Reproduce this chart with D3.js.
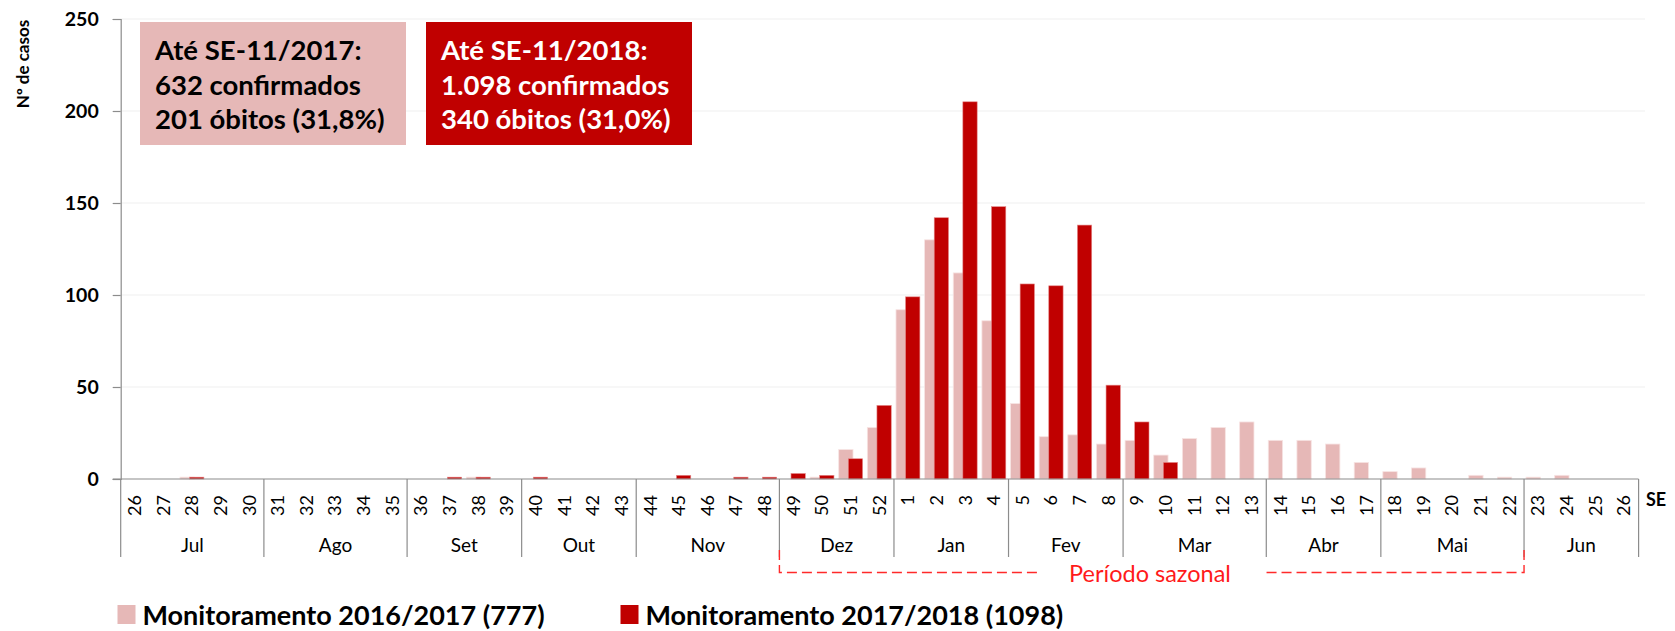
<!DOCTYPE html>
<html>
<head>
<meta charset="utf-8">
<script src="https://cdn.jsdelivr.net/npm/d3@7"></script>
<style>
  html, body { margin: 0; padding: 0; background: #fff; }
  svg { display: block; font-family: Lato, "Open Sans", sans-serif; }
</style>
</head>
<body>
<script>
// epidemiological weeks, Jul -> Jun
const weeks = [
  "26","27","28","29","30","31","32","33","34","35","36","37","38","39",
  "40","41","42","43","44","45","46","47","48","49","50","51","52",
  "1","2","3","4","5","6","7","8","9","10","11","12","13",
  "14","15","16","17","18","19","20","21","22","23","24","25","26b"
];
const monthNames = ["Jul","Ago","Set","Out","Nov","Dez","Jan","Fev","Mar","Abr","Mai","Jun"];
const monthWeeks = [5, 5, 4, 4, 5, 4, 4, 4, 5, 4, 5, 4];

const cases1617 = [
  0,0,1,0,0, 0,0,0,0,0, 0,0,1,0, 0,0,0,0, 0,0,0,0,0, 0,1,16,28,
  92,130,112,86, 41,23,24,19, 21,13,22,28,31, 21,21,19,9, 4,6,0,2,1, 1,2,0,0
];
const cases1718 = [
  0,0,1,0,0, 0,0,0,0,0, 0,1,1,0, 1,0,0,0, 0,2,0,1,1, 3,2,11,40,
  99,142,205,148, 106,105,138,51, 31,9,0,0,0, 0,0,0,0, 0,0,0,0,0, 0,0,0,0
];

const seriesNames = ["Monitoramento 2016/2017 (777)", "Monitoramento 2017/2018 (1098)"];
const seriesColors = ["#e6b8b7", "#c00000"];
const yTicks = [0, 50, 100, 150, 200, 250];

const boxLines1 = ["Até SE-11/2017:", "632 confirmados", "201 óbitos (31,8%)"];
const boxLines2 = ["Até SE-11/2018:", "1.098 confirmados", "340 óbitos (31,0%)"];

const W = 1675, H = 631;
const plot = {left: 120.7, right: 1638.6, top: 19, bottom: 479};

const svg = d3.select("body").append("svg")
    .attr("width", W)
    .attr("height", H);

const x = d3.scaleBand()
    .domain(d3.range(weeks.length))
    .range([plot.left, plot.right])
    .padding(0);

const y = d3.scaleLinear()
    .domain([0, 250])
    .range([plot.bottom, plot.top]);

const bw = x.bandwidth();

// gridlines
svg.append("g")
  .selectAll("line")
  .data(yTicks.filter(d => d > 0))
  .join("line")
    .attr("x1", plot.left)
    .attr("x2", 1645)
    .attr("y1", d => y(d))
    .attr("y2", d => y(d))
    .attr("stroke", "#efefef")
    .attr("stroke-width", 1.2);

// y axis
const yAxis = svg.append("g")
    .attr("transform", `translate(${plot.left},0)`)
    .call(d3.axisLeft(y).tickValues(yTicks).tickSize(8).tickPadding(14));
yAxis.select(".domain").attr("stroke", "#8c8c8c").attr("stroke-width", 1.2);
yAxis.selectAll(".tick line").attr("stroke", "#8c8c8c").attr("stroke-width", 1.2);
yAxis.selectAll(".tick text")
    .attr("font-size", 19.5)
    .attr("font-weight", "bold")
    .attr("font-family", "Lato, sans-serif")
    .attr("fill", "#000");

svg.append("text")
    .attr("transform", `translate(29,64) rotate(-90)`)
    .attr("text-anchor", "middle")
    .attr("font-size", 17)
    .attr("font-weight", "bold")
    .text("Nº de casos");

// bars
svg.append("g")
  .selectAll("rect")
  .data(cases1617)
  .join("rect")
    .attr("x", (d, i) => x(i) + bw * 0.07)
    .attr("width", bw * 0.5)
    .attr("y", d => y(d))
    .attr("height", d => y(0) - y(d))
    .attr("fill", seriesColors[0])
    .attr("stroke", "#f7e4e3")
    .attr("stroke-width", d => d > 0 ? 0.8 : 0);

svg.append("g")
  .selectAll("rect")
  .data(cases1718)
  .join("rect")
    .attr("x", (d, i) => x(i) + bw * 0.405)
    .attr("width", bw * 0.5)
    .attr("y", d => y(d))
    .attr("height", d => y(0) - y(d))
    .attr("fill", seriesColors[1])
    .attr("stroke", "#e58a8a")
    .attr("stroke-width", d => d > 0 ? 0.6 : 0);

// x axis line
svg.append("line")
    .attr("x1", plot.left - 8).attr("x2", plot.right)
    .attr("y1", y(0)).attr("y2", y(0))
    .attr("stroke", "#8c8c8c").attr("stroke-width", 1.2);

// week labels
svg.append("g")
  .selectAll("text")
  .data(weeks)
  .join("text")
    .attr("transform", (d, i) => `translate(${x(i) + bw / 2 + 6},495) rotate(-90)`)
    .attr("text-anchor", "end")
    .attr("font-size", 18)
    .text(d => d.replace("b", ""));

// month groups
const monthStart = monthWeeks.map((n, i) => d3.sum(monthWeeks.slice(0, i)));
const sepIdx = monthStart.concat([weeks.length]);
svg.append("g")
  .selectAll("line")
  .data(sepIdx)
  .join("line")
    .attr("x1", d => d < weeks.length ? x(d) : plot.right)
    .attr("x2", d => d < weeks.length ? x(d) : plot.right)
    .attr("y1", y(0))
    .attr("y2", 557)
    .attr("stroke", "#8c8c8c")
    .attr("stroke-width", 1.2);

svg.append("g")
  .selectAll("text")
  .data(monthNames)
  .join("text")
    .attr("x", (d, i) => x(monthStart[i]) + monthWeeks[i] * bw / 2)
    .attr("y", 552)
    .attr("text-anchor", "middle")
    .attr("font-size", 19)
    .text(d => d);

svg.append("text")
    .attr("x", 1646)
    .attr("y", 506)
    .attr("font-size", 18)
    .attr("font-weight", "bold")
    .text("SE");

// seasonal period bracket (Dez -> Mai)
const sazStart = x(monthStart[5]);
const sazEnd = x(monthStart[11]);
const dash = "10,5";
svg.append("path")
    .attr("d", `M${sazStart},550 V572.5 H1041`)
    .attr("fill", "none")
    .attr("stroke", "#ff2a2a")
    .attr("stroke-width", 1.4)
    .attr("stroke-dasharray", dash);
svg.append("path")
    .attr("d", `M${sazEnd},550 V572.5 H1263`)
    .attr("fill", "none")
    .attr("stroke", "#ff2a2a")
    .attr("stroke-width", 1.4)
    .attr("stroke-dasharray", dash);
svg.append("text")
    .attr("x", 1150)
    .attr("y", 582)
    .attr("text-anchor", "middle")
    .attr("font-size", 23.5)
    .attr("fill", "#ff1a1a")
    .text("Período sazonal");

// summary boxes
function box(x0, x1, fill, color, lines) {
  const g = svg.append("g");
  g.append("rect")
      .attr("x", x0).attr("y", 22)
      .attr("width", x1 - x0).attr("height", 123)
      .attr("fill", fill);
  g.selectAll("text")
    .data(lines)
    .join("text")
      .attr("x", x0 + 15)
      .attr("y", (d, i) => 60 + i * 34.5)
      .attr("font-size", 27.5)
      .attr("font-weight", "bold")
      .attr("fill", color)
      .text(d => d);
}
box(140, 406, seriesColors[0], "#000", boxLines1);
box(426, 692, seriesColors[1], "#fff", boxLines2);

// legend
const legendX = [117.5, 620.5];
const legend = svg.append("g")
  .selectAll("g")
  .data(seriesNames)
  .join("g")
    .attr("transform", (d, i) => `translate(${legendX[i]},605)`);
legend.append("rect")
    .attr("width", 18).attr("height", 19)
    .attr("fill", (d, i) => seriesColors[i]);
legend.append("text")
    .attr("x", 25)
    .attr("y", 19.5)
    .attr("font-size", 27)
    .attr("font-weight", "bold")
    .text(d => d);
</script>
</body>
</html>
